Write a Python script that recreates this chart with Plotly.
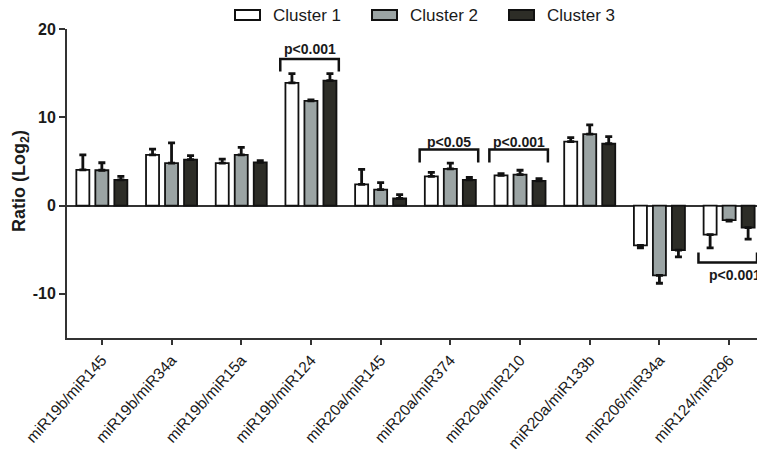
import plotly.graph_objects as go

categories = ["miR19b/miR145", "miR19b/miR34a", "miR19b/miR15a", "miR19b/miR124",
              "miR20a/miR145", "miR20a/miR374", "miR20a/miR210", "miR20a/miR133b",
              "miR206/miR34a", "miR124/miR296"]
series_names = ["Cluster 1", "Cluster 2", "Cluster 3"]
cluster1 = [4.05, 5.75, 4.8, 13.9, 2.4, 3.3, 3.42, 7.25, -4.5, -3.3]
cluster2 = [4.0, 4.8, 5.75, 11.85, 1.8, 4.15, 3.5, 8.1, -7.9, -1.65]
cluster3 = [2.9, 5.2, 4.9, 14.15, 0.8, 2.9, 2.8, 7.0, -5.05, -2.5]
err1 = [1.7, 0.65, 0.45, 1.05, 1.7, 0.45, 0.2, 0.45, 0.3, 1.5]
err2 = [0.85, 2.3, 0.85, 0.12, 0.8, 0.65, 0.5, 1.05, 0.9, 0.12]
err3 = [0.4, 0.45, 0.2, 0.8, 0.45, 0.3, 0.25, 0.8, 0.75, 1.3]
y_tickvals = [-10, 0, 10, 20]
y_ticktext = ["-10", "0", "10", "20"]
y_title = "Ratio (Log<sub>2</sub>)"
# significance annotations
sig_groups = [3, 5, 6, 9]
sig_labels = ["p<0.001", "p<0.05", "p<0.001", "p<0.001"]
sig_bar_y = [16.6, 6.34, 6.34, -6.45]
sig_leg_y = [15.2, 4.87, 4.87, -5.32]
sig_text_y = [17.7, 7.25, 7.25, -7.85]

fills = ["#ffffff", "#9ba4a4", "#2d2d27"]
values = [cluster1, cluster2, cluster3]
errs = [err1, err2, err3]

FONT = "Liberation Sans, Arial, sans-serif"
fig = go.Figure()
x_idx = list(range(len(categories)))
for name, vals, err, col in zip(series_names, values, errs, fills):
    plus = [e if v >= 0 else 0 for v, e in zip(vals, err)]
    minus = [e if v < 0 else 0 for v, e in zip(vals, err)]
    fig.add_trace(go.Bar(
        x=x_idx, y=vals, name=name,
        marker=dict(color=col, line=dict(color="#111111", width=1.8)),
        error_y=dict(type="data", symmetric=False, array=plus, arrayminus=minus,
                     color="#111111", thickness=2.8, width=3.5),
        showlegend=False,
    ))

# plot area geometry in pixels (layout only)
W, H = 757, 451
L, R, T, B = 67, 0, 29, 113
pw, ph = W - L - R, H - T - B

def px_x(px):
    return (px - L) / pw

def px_y(py):
    return (H - B - py) / ph

shapes = []
annotations = []
# manual legend
leg_left = [235, 372, 509]
for i, (name, col) in enumerate(zip(series_names, fills)):
    x0 = leg_left[i]
    shapes.append(dict(type="rect", xref="paper", yref="paper",
                       x0=px_x(x0), x1=px_x(x0 + 25), y0=px_y(20), y1=px_y(10),
                       fillcolor=col, line=dict(color="#111111", width=2)))
    annotations.append(dict(text=name, xref="paper", yref="paper",
                            x=px_x(x0 + 36), y=px_y(15.5), xanchor="left", yanchor="middle",
                            showarrow=False, font=dict(family=FONT, size=17, color="#1a1a1a")))

# y axis title
annotations.append(dict(text=y_title, xref="paper", yref="paper",
                        x=px_x(20), y=px_y(181), xanchor="center", yanchor="middle",
                        textangle=-90, showarrow=False,
                        font=dict(family=FONT, size=18, color="#1a1a1a", weight="bold")))

# significance brackets
for g, lab, by, ly, ty in zip(sig_groups, sig_labels, sig_bar_y, sig_leg_y, sig_text_y):
    xa, xb = g - 0.44, g + 0.40
    shapes.append(dict(type="path", xref="x", yref="y",
                       path=f"M {xa},{ly} L {xa},{by} L {xb},{by} L {xb},{ly}",
                       line=dict(color="#111111", width=2.5)))
    if by > 0:
        annotations.append(dict(text=lab, x=g - 0.02, y=ty, xref="x", yref="y",
                                xanchor="center", yanchor="middle", showarrow=False,
                                font=dict(family=FONT, size=14, color="#1a1a1a", weight="bold")))
    else:
        annotations.append(dict(text=lab, x=g - 0.32, y=ty, xref="x", yref="y",
                                xanchor="left", yanchor="middle", showarrow=False,
                                font=dict(family=FONT, size=14, color="#1a1a1a", weight="bold")))

fig.update_layout(
    width=W, height=H,
    margin=dict(l=L, r=R, t=T, b=B, pad=0, autoexpand=False),
    paper_bgcolor="white", plot_bgcolor="white",
    barmode="group", bargap=0.182, bargroupgap=0.315,
    shapes=shapes, annotations=annotations,
    showlegend=False,
)
fig.update_xaxes(
    range=[-0.5, 9.4], tickmode="array", tickvals=x_idx, ticktext=categories,
    tickangle=-48, ticks="outside", ticklen=5, tickwidth=2, tickcolor="#333333",
    showline=True, linecolor="#333333", linewidth=2, showgrid=False, zeroline=False,
    automargin=False,
    tickfont=dict(family=FONT, size=15.5, color="#1a1a1a"),
)
fig.update_yaxes(
    range=[-15, 20], tickmode="array", tickvals=y_tickvals, ticktext=y_ticktext,
    ticks="outside", ticklen=6, tickwidth=2, tickcolor="#333333",
    showline=True, linecolor="#333333", linewidth=2, showgrid=False,
    zeroline=True, zerolinecolor="#333333", zerolinewidth=2, automargin=False,
    tickfont=dict(family=FONT, size=16, color="#1a1a1a", weight="bold"),
)

fig.write_html("out.html")
